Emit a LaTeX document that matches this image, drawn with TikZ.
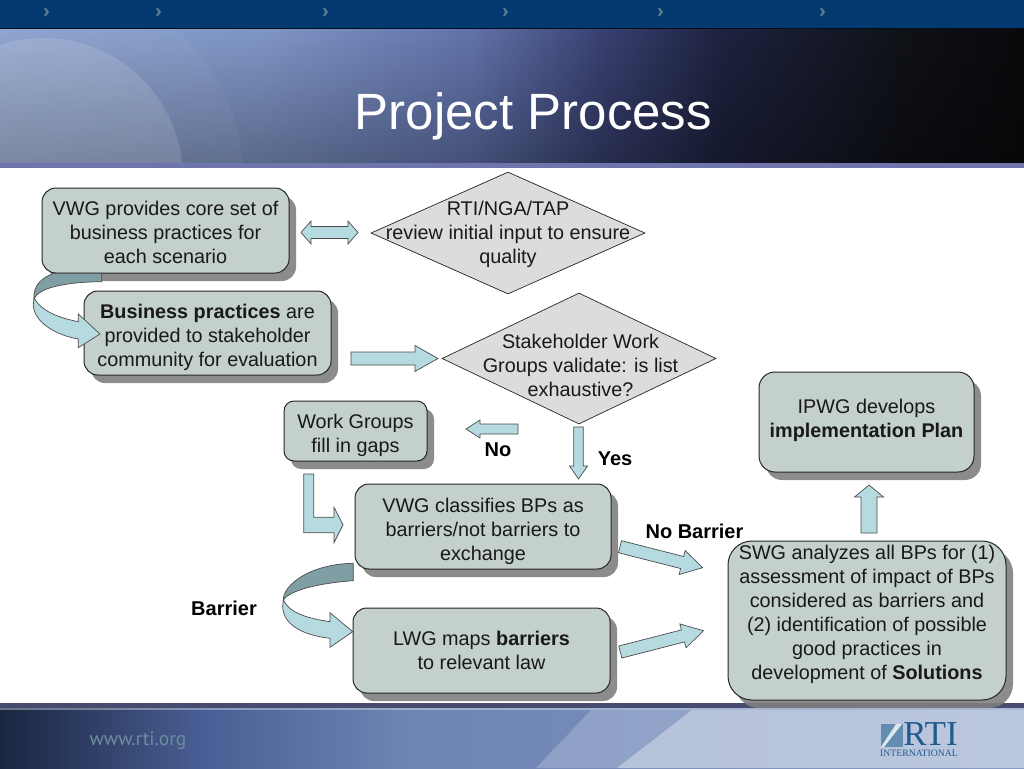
\documentclass[tikz,border=0pt]{standalone}
\usepackage{fontspec}
\setmainfont{Liberation Sans}
\newfontfamily\logofont{Liberation Serif}
\newfontfamily\webfont{PT Sans}
\usetikzlibrary{positioning,calc,shapes.geometric,shadows,fadings}

\definecolor{boxfill}{HTML}{C3D0CC}
\definecolor{arrowfill}{HTML}{B5DAE0}
\definecolor{arrowdark}{HTML}{7F9FA5}
\definecolor{diamondfill}{HTML}{DCDCDC}
\definecolor{barblue}{HTML}{043A70}
\definecolor{stripeblue}{HTML}{6F74AC}
\definecolor{logoblue}{HTML}{1F5C8E}
\definecolor{headA}{HTML}{8CA3CE}
\definecolor{headB}{HTML}{8096C6}
\definecolor{headC}{HTML}{6273AB}
\definecolor{headD}{HTML}{3A4272}
\definecolor{headE}{HTML}{1E2340}
\definecolor{headF}{HTML}{101218}
\definecolor{headG}{HTML}{0A0A0C}
\definecolor{footA}{HTML}{1A2540}
\definecolor{footB}{HTML}{4A5F95}
\definecolor{footC}{HTML}{6F85B5}
\definecolor{footD}{HTML}{7E95C2}

\pgfdeclarehorizontalshading{HeaderBand}{100bp}{color(0bp)=(headA);color(25bp)=(headA);
  color(37.7bp)=(headB);color(48bp)=(headC);color(54.3bp)=(headD);
  color(60.2bp)=(headE);color(69bp)=(headF);color(75bp)=(headG);color(100bp)=(headG)}
\pgfdeclarehorizontalshading{FooterBand}{100bp}{color(0bp)=(footA);color(25bp)=(footA);
  color(35bp)=(footB);color(45bp)=(footC);color(75bp)=(footD);color(100bp)=(footD)}

\newcommand{\textdown}[1]{\rule{0pt}{#1}}

\tikzset{
  flowbox/.style={rectangle, draw=black!85, line width=1pt, fill=boxfill, rounded corners=14pt,
    align=center, inner sep=0pt, text=black!90,
    drop shadow={shadow xshift=7pt, shadow yshift=-8pt, fill=black!50, opacity=.9}},
  decision/.style={diamond, draw=black!85, line width=.7pt, fill=diamondfill, inner sep=0pt, aspect=2.3},
  flowtext/.style={align=center, text=black!90, inner sep=0pt},
  flowlabel/.style={font=\fontsize{20}{24}\selectfont\bfseries, inner sep=0pt},
  flowshape/.style={draw=black!70, line width=.7pt, fill=arrowfill},
  % #1 half shaft, #2 half head, #3 head length
  flowarrow/.style n args={3}{flowshape, to path={
    -- ($(\tikztostart)!#1!90:(\tikztotarget)$)
    -- ($($(\tikztotarget)!#3!(\tikztostart)$)!#1!90:(\tikztotarget)$)
    -- ($($(\tikztotarget)!#3!(\tikztostart)$)!#2!90:(\tikztotarget)$)
    -- (\tikztotarget)
    -- ($($(\tikztotarget)!#3!(\tikztostart)$)!#2!-90:(\tikztotarget)$)
    -- ($($(\tikztotarget)!#3!(\tikztostart)$)!#1!-90:(\tikztotarget)$)
    -- ($(\tikztostart)!#1!-90:(\tikztotarget)$)
    -- cycle}},
  flowdouble/.style n args={3}{flowshape, to path={
    -- ($($(\tikztostart)!#3!(\tikztotarget)$)!#2!90:(\tikztotarget)$)
    -- ($($(\tikztostart)!#3!(\tikztotarget)$)!#1!90:(\tikztotarget)$)
    -- ($($(\tikztotarget)!#3!(\tikztostart)$)!#1!90:(\tikztotarget)$)
    -- ($($(\tikztotarget)!#3!(\tikztostart)$)!#2!90:(\tikztotarget)$)
    -- (\tikztotarget)
    -- ($($(\tikztotarget)!#3!(\tikztostart)$)!#2!-90:(\tikztotarget)$)
    -- ($($(\tikztotarget)!#3!(\tikztostart)$)!#1!-90:(\tikztotarget)$)
    -- ($($(\tikztostart)!#3!(\tikztotarget)$)!#1!-90:(\tikztotarget)$)
    -- ($($(\tikztostart)!#3!(\tikztotarget)$)!#2!-90:(\tikztotarget)$)
    -- cycle}}
}

\begin{document}
\begin{tikzpicture}[x=1pt, y=-1pt, font=\fontsize{19.8}{24}\selectfont]
  \useasboundingbox (0,0) rectangle (1024,768);

  % header band
  \fill[barblue] (0,0) rectangle (1024,28);
  \fill[black!75!barblue] (0,28) rectangle (1024,30);
  \shade[shading=HeaderBand] (0,30) rectangle (1024,164);
  \fill[black, opacity=.3, path fading=north] (0,30) rectangle (1024,164);
  \begin{scope}
    \clip (0,30) rectangle (1024,164);
    \fill[white, opacity=.04] (43,178) circle (200);
    \fill[white, opacity=.13] (43,178) circle (140);
  \end{scope}
  \fill[stripeblue] (0,163) rectangle (1024,168);
  \foreach \xpos in {46,158,325,505,660,822}
    \fill[black!30!arrowfill!70!barblue] (\xpos-2,8) -- (\xpos,8) -- (\xpos+3,12) -- (\xpos,16) -- (\xpos-2,16) -- (\xpos,12) -- cycle;
  \node (Title) at (533.5,116) [text=white, font=\fontsize{51}{60}\selectfont] {Project Process};

  % footer band
  \shade[shading=FooterBand] (0,703) rectangle (1024,768);
  \fill[black!35!stripeblue] (0,703) rectangle (1024,708);
  \fill[white, opacity=.35] (0,708) rectangle (1024,710);
  \fill[white, opacity=.2] (591,710) -- (1024,710) -- (1024,768) -- (536,768) -- cycle;
  \fill[white, opacity=.35] (692,710) -- (1024,710) -- (1024,768) -- (617,768) -- cycle;
  \node (Web) at (138,741) [text=black!25!arrowfill!80!barblue, font=\webfont\fontsize{19.5}{22}\selectfont] {www.rti.org};
  \fill[logoblue!70!white] (881,724) rectangle (903,747);
  \fill[white!85!logoblue] (881,747) -- (884,747) -- (902,724) -- (896,724) -- cycle;
  \node (LogoRTI) at (930.5,745) [anchor=base, text=logoblue, font=\logofont\fontsize{35}{35}\selectfont, inner sep=0pt] {RTI};
  \node (LogoInt) at (919,756) [anchor=base, text=logoblue, font=\logofont\fontsize{9.7}{10}\selectfont, inner sep=0pt] {INTERNATIONAL};

  % boxes and decisions
  \node (VWGCore) at (165.5,230.5) [flowbox, minimum width=247pt, minimum height=85pt]
    {\textdown{18.5pt}VWG provides core set of\\business practices for\\each scenario};
  \node (Practices) [flowbox, minimum width=247pt, minimum height=84pt, node distance=102.5pt, below of=VWGCore, xshift=42pt]
    {\textdown{22.5pt}\textbf{Business practices} are\\provided to stakeholder\\community for evaluation};
  \node (Review) at (508,233) [decision, minimum width=274pt, minimum height=122pt] {};
  \node (ReviewText) at (508,234) [flowtext] {RTI/NGA/TAP\\review initial input to ensure\\quality};
  \node (Validate) at (579,358.5) [decision, minimum width=274pt, minimum height=131pt] {};
  \node (ValidateText) [flowtext, node distance=6.5pt, below of=Validate, xshift=1.5pt] {Stakeholder Work\\Groups validate: is list\\exhaustive?};
  \node (FillGaps) at (355.5,431) [flowbox, rounded corners=10pt, minimum width=143pt, minimum height=60pt]
    {\textdown{22.5pt}Work Groups\\fill in gaps};
  \node (Classify) at (483,526.5) [flowbox, minimum width=256pt, minimum height=85pt]
    {\textdown{24.5pt}VWG classifies BPs as\\barriers/not barriers to\\exchange};
  \node (LawMap) [flowbox, minimum width=257pt, minimum height=85pt, node distance=124pt, below of=Classify, xshift=-1.5pt]
    {LWG maps \textbf{barriers}\\to relevant law};
  \node (ImplPlan) at (866.5,422) [flowbox, rounded corners=16pt, minimum width=215pt, minimum height=100pt]
    {IPWG develops\\\textbf{implementation Plan}\\[-16pt]\mbox{}};
  \node (Analyze) at (867,620.5) [flowbox, rounded corners=24pt, minimum width=278pt, minimum height=159pt]
    {SWG analyzes all BPs for (1)\\assessment of impact of BPs\\considered as barriers and\\(2) identification of possible\\good practices in\\development of \textbf{Solutions}\\[-7pt]\mbox{}};

  % free ends of the block arrows
  \coordinate (ReviewL) at (301,232.5);
  \coordinate (ReviewR) at (358,232.5);
  \coordinate (PracticesE) at (351,358.5);
  \coordinate (ValidateW) at (438,358.5);
  \coordinate (NoS) at (518,429);
  \coordinate (NoE) at (466,429);
  \coordinate (YesS) at (578.5,427);
  \coordinate (YesE) at (578.5,479);
  \coordinate (BarrierS) at (620,546.7);
  \coordinate (BarrierE) at (702.5,567.7);
  \coordinate (LawS) at (620.3,652);
  \coordinate (LawE) at (703.3,630.7);
  \coordinate (UpS) at (869,533);
  \coordinate (UpE) at (869,485);

  \draw[flowdouble={6pt}{11.5pt}{10pt}] (ReviewL) to (ReviewR);
  \draw[flowarrow={6.5pt}{13pt}{23pt}] (PracticesE) to (ValidateW);
  \draw[flowarrow={5pt}{9pt}{14pt}] (NoS) to (NoE);
  \draw[flowarrow={4.7pt}{9pt}{13pt}] (YesS) to (YesE);
  \draw[flowarrow={6.2pt}{12.4pt}{21pt}] (BarrierS) to (BarrierE);
  \draw[flowarrow={6.2pt}{12.4pt}{21pt}] (LawS) to (LawE);
  \draw[flowarrow={8pt}{14.5pt}{12pt}] (UpS) to (UpE);

  % bent arrow
  \draw[flowshape] (303.7,474) -- (313.7,474) -- (313.7,517.3) -- (334,517.3) -- (334,507.3) -- (343,524.7)
    -- (334,542.7) -- (334,532.7) -- (303.7,532.7) -- cycle;

  % curved arrows
  \draw[flowshape, fill=arrowdark] (53.3,273.3) -- (101.7,273.3) -- (101.7,281.7) .. controls (65,282) and (38,288) .. (34,299)
    .. controls (33,285) and (42,278) .. (53.3,273.3) -- cycle;
  \draw[flowshape] (34,298) .. controls (42,312) and (60,318) .. (78.3,321.7) -- (78.3,314) -- (100,334) -- (78.3,347.7)
    -- (78.3,339) .. controls (55,335) and (34,322) .. (33.3,305) -- cycle;
  \draw[flowshape, fill=arrowdark] (353.3,563.3) -- (353.3,580.7) .. controls (320,583) and (290,590) .. (283.3,600)
    .. controls (283,585) and (310,564) .. (353.3,563.3) -- cycle;
  \draw[flowshape] (283.3,600) .. controls (290,613) and (306,618) .. (330,621.7) -- (330,612.7) -- (352.7,631.7)
    -- (330,647.3) -- (330,638.3) .. controls (300,635) and (283,623) .. (282.7,606.7) -- cycle;

  % labels
  \node (NoLabel) at (498,450) [flowlabel] {No};
  \node (YesLabel) at (615,459) [flowlabel] {Yes};
  \node (NoBarrierLabel) at (694.5,531) [flowlabel] {No Barrier};
  \node (BarrierLabel) at (224,608) [flowlabel] {Barrier};
\end{tikzpicture}
\end{document}
